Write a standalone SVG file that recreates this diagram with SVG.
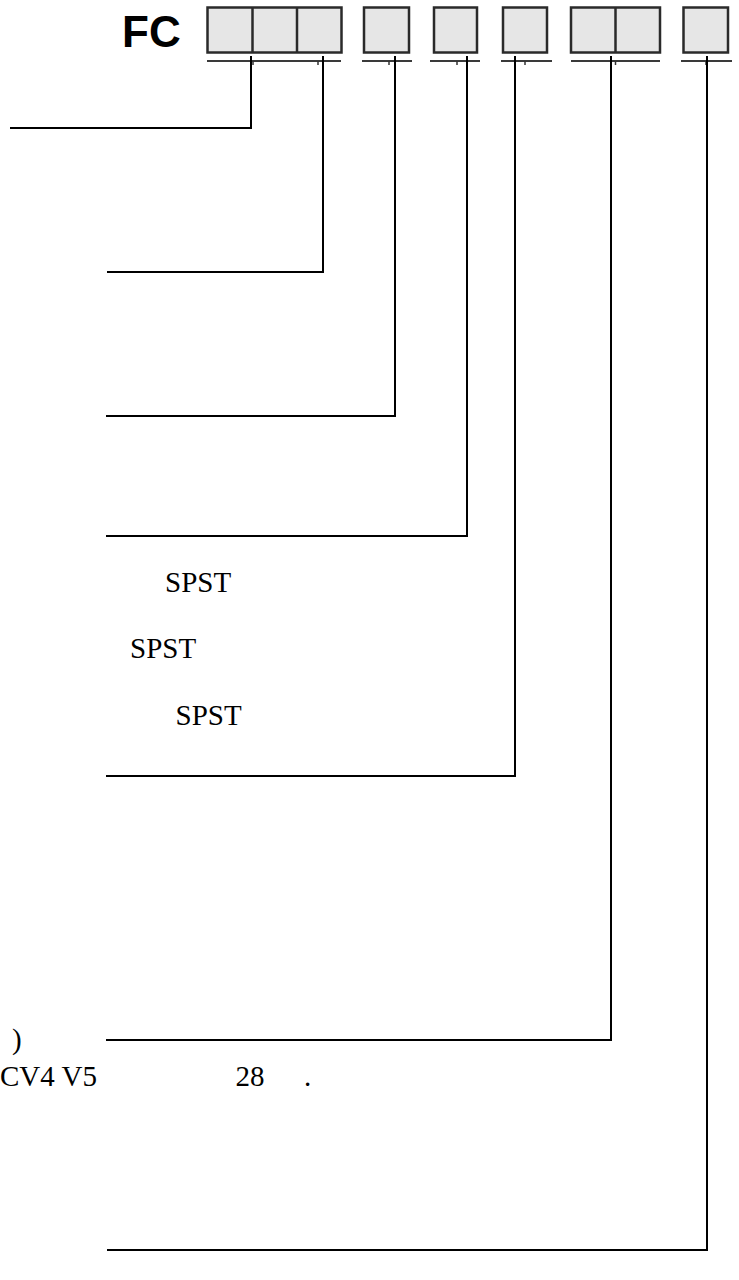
<svg xmlns="http://www.w3.org/2000/svg" width="739" height="1280" viewBox="0 0 739 1280">
<style>
.box{fill:#e6e6e6;stroke:#2a2a2a;stroke-width:2.5}
.ul{stroke:#3a3a3a;stroke-width:2;fill:none}
.tick{stroke:#333;stroke-width:1.5;fill:none}
.conn{stroke:#000;stroke-width:2;fill:none;stroke-linejoin:miter}
.t{font-family:"Liberation Serif","Times New Roman",serif;font-size:29px;fill:#000}
.fc{font-family:"Liberation Sans",Arial,sans-serif;font-size:44px;font-weight:bold;fill:#000}
</style>
<rect width="739" height="1280" fill="#fff"/>
<g id="title"><text class="fc" x="122" y="47">FC</text></g>
<g id="field1">
<rect class="box" x="207.5" y="7.5" width="134" height="45"/>
<line class="box" x1="252.5" y1="7.5" x2="252.5" y2="52.5"/>
<line class="box" x1="297" y1="7.5" x2="297" y2="52.5"/>
<line class="ul" x1="207" y1="61" x2="341" y2="61"/>
<line class="tick" x1="253" y1="61" x2="253" y2="65"/>
<line class="tick" x1="318" y1="61" x2="318" y2="65"/>
</g>
<g id="field2">
<rect class="box" x="364" y="7.5" width="45" height="45"/>
<line class="ul" x1="362" y1="61" x2="412" y2="61"/>
<line class="tick" x1="389" y1="61" x2="389" y2="65"/>
</g>
<g id="field3">
<rect class="box" x="434" y="7.5" width="43" height="45"/>
<line class="ul" x1="430" y1="61" x2="480" y2="61"/>
<line class="tick" x1="457" y1="61" x2="457" y2="65"/>
</g>
<g id="field4">
<rect class="box" x="503" y="7.5" width="44" height="45"/>
<line class="ul" x1="501" y1="61" x2="552" y2="61"/>
<line class="tick" x1="525" y1="61" x2="525" y2="65"/>
</g>
<g id="field5">
<rect class="box" x="571" y="7.5" width="89" height="45"/>
<line class="box" x1="615.5" y1="7.5" x2="615.5" y2="52.5"/>
<line class="ul" x1="571" y1="61" x2="660" y2="61"/>
<line class="tick" x1="615.5" y1="61" x2="615.5" y2="65"/>
</g>
<g id="field6">
<rect class="box" x="683.5" y="7.5" width="44.5" height="45"/>
<line class="ul" x1="681" y1="61" x2="732" y2="61"/>
<line class="tick" x1="706" y1="61" x2="706" y2="65"/>
</g>
<g id="connectors">
<path class="conn" d="M251 56 V128 H10"/>
<path class="conn" d="M323 56 V272 H107"/>
<path class="conn" d="M395 56 V416 H106"/>
<path class="conn" d="M467 56 V536 H106"/>
<path class="conn" d="M515 56 V776 H106"/>
<path class="conn" d="M611 56 V1040 H106"/>
<path class="conn" d="M707 56 V1250 H107"/>
</g>
<g id="labels">
<text class="t" x="165" y="592">SPST</text>
<text class="t" x="130" y="658">SPST</text>
<text class="t" x="175.5" y="725">SPST</text>
<text class="t" x="12" y="1049">)</text>
<text class="t" x="0" y="1086">CV4 V5</text>
<text class="t" x="235.5" y="1086">28</text>
<text class="t" x="304" y="1086">.</text>
</g>
</svg>
